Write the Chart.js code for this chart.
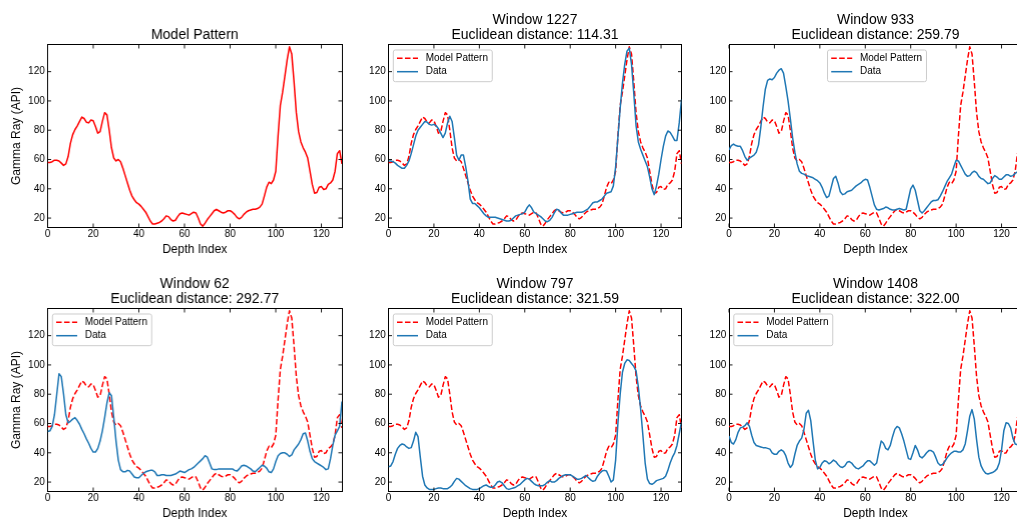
<!DOCTYPE html>
<html lang="en">
<head>
<meta charset="UTF-8">
<title>Gamma Ray Pattern Matching</title>
<script src="https://cdn.jsdelivr.net/npm/chart.js@4.4.1/dist/chart.umd.min.js"></script>
<style>
  html, body { margin: 0; padding: 0; background: #fff; overflow: hidden; }
  body { width: 1017px; height: 519px; position: relative; }
  .panel { position: absolute; }
</style>
</head>
<body>
<script>
// depth index along each window (130 samples)
const depthIndex = Array.from({ length: 130 }, (_, i) => i);
const xTicks = [0, 20, 40, 60, 80, 100, 120];
const yTicks = [20, 40, 60, 80, 100, 120];
const xRange = [0, 129];
const yRange = [13.9, 138.2];

// reference gamma ray pattern
const modelPattern = [
  58, 58, 58.5, 59.5, 59.5, 59, 57.5, 56, 57, 62,
  71, 77, 80.5, 83, 86, 89, 88, 85.5, 85, 87,
  86.5, 82.5, 78, 79, 86, 92, 90.5, 80, 68, 61,
  59, 60, 58.5, 54, 49, 44, 39, 35, 32.5, 30.5,
  29.5, 28, 26, 24, 21, 18, 16, 16, 16.5, 17,
  18, 19.5, 21.5, 21, 19, 18, 18.5, 21, 23, 23.5,
  23, 22.5, 22, 23, 24, 23.5, 20, 16, 14.5, 16.5,
  19, 21, 23, 25, 26, 25, 24, 23.5, 24, 25,
  25, 24, 22.5, 20.5, 19.5, 20.5, 22.5, 24, 25, 25.5,
  26, 26, 26.5, 27.5, 29.5, 35, 41, 44.5, 43.5, 46,
  52, 76, 97, 106, 117, 128, 137, 132, 113, 92,
  79, 72, 68, 65, 61, 52, 43, 37, 37.5, 41,
  41.5, 39.5, 40, 43, 44, 46, 52, 64, 66, 57
];

// matched windows, best match first
const windowIds = [1227, 933, 62, 797, 1408];
const distances = [114.31, 259.79, 292.77, 321.59, 322.00];

const window1227 = [
  59, 59, 58.5, 57.5, 56, 55, 54, 54, 56, 59,
  64, 70, 76, 80, 82, 84, 86, 85.5, 84, 83.5,
  84, 83, 81, 78, 75, 78, 85, 89.5, 86, 75,
  63, 59.5, 63, 63, 55, 45, 33, 30, 30, 28.5,
  27, 25, 23, 21.5, 20.5, 20.5, 20.5, 20.5, 20, 19.5,
  19, 18.5, 18, 18, 18.5, 20, 21.5, 22, 22.5, 23,
  24, 27, 29, 27, 24, 23, 22, 21, 19.5, 18,
  17.5, 18.5, 20.5, 23.5, 26, 25.5, 23.5, 22, 22, 22,
  22.5, 23, 23.5, 24, 24, 24, 24.5, 25.5, 26.5, 28.5,
  30.5, 31, 31, 32, 33, 35, 37, 37.5, 38, 42,
  55, 75, 95, 112, 125, 134, 136, 125, 105, 83,
  72, 67, 63, 59, 55, 48, 40, 36, 42, 50,
  60, 69, 76, 79.5, 78.5, 76, 73, 73, 85, 101
];

const window933 = [
  66.5, 69.5, 70.5, 69.5, 69, 69, 66, 62, 59.5, 61,
  62, 63, 65, 70, 82, 96, 108, 114, 115, 114.5,
  116, 119, 121, 122, 119, 110, 100, 88, 75, 65,
  57, 52, 50.5, 50, 49, 48.5, 48, 47.5, 46.5, 45.5,
  44, 41, 37, 34, 35, 41, 47, 48.5, 44, 38,
  36, 36.5, 38, 38.5, 39, 40.5, 42, 43, 44, 45.5,
  46.5, 46, 41, 35, 29, 26, 25.5, 26, 26.5, 27.5,
  27, 26, 25.5, 25.5, 26, 26.5, 26, 25.5, 26, 33,
  40, 42.5, 39, 32, 25, 23.5, 25, 27, 29, 31,
  32, 32, 32.5, 35, 38, 41.5, 45, 47.5, 50, 55,
  59.5, 59, 56, 53, 50, 48.5, 49, 51, 52, 51,
  48.5, 47, 46.5, 45, 43.5, 44, 47, 49, 48, 46.5,
  46.5, 48, 49.5, 49.5, 48.5, 49, 50.5, 51.5, 53, 54
];

const window62 = [
  54.5, 55, 58, 66, 80, 94, 92, 80, 66, 60.5,
  61.5, 63, 64, 62, 59.5, 56, 53, 49.5, 46.5, 43,
  40.5, 40.5, 43, 48, 55, 64, 74, 81, 79, 64,
  48, 35, 28.5, 27, 27, 28, 27.5, 25.5, 23.5, 23,
  23, 24.5, 26, 27, 27.5, 28, 28, 27, 24.5, 24.5,
  25, 25, 24.5, 24.5, 24.5, 25, 25.5, 26.5, 27.5, 27,
  26.5, 27.5, 28.5, 29, 30, 31.5, 33, 34.5, 36, 38,
  37, 33, 29, 28.5, 28.5, 29, 29, 29, 29, 29,
  29, 29, 28, 27.5, 29, 31, 31.5, 31, 30, 29,
  27.5, 27, 28.5, 30, 31.5, 31, 29.5, 27, 26.5, 29,
  34, 38, 39.5, 40, 40, 39, 37.5, 38.5, 42, 44,
  46, 49, 53, 53.5, 48, 41, 36, 34, 33, 32,
  31, 30, 28.5, 29, 36, 45, 52, 55, 58, 75
];

const window797 = [
  30.5, 31, 34, 39, 43, 45, 46, 45.5, 44, 43,
  43.5, 48, 54, 51, 37, 24, 18, 16, 15, 15,
  15, 15.5, 16, 16, 15.5, 15.5, 15.5, 16.5, 18, 20.5,
  22.5, 22, 20.5, 19, 17.5, 16.5, 15.5, 15, 15, 15,
  15.5, 16.5, 17.5, 18, 17, 16.5, 16.5, 18, 20, 20.5,
  19.5, 17.5, 15.5, 15, 15.5, 16, 16.5, 17.5, 18.5, 20,
  21.5, 22.5, 22, 20.5, 19, 18, 17.5, 17.5, 17.5, 18.5,
  20, 21, 20, 20, 21, 22.5, 23.5, 24.5, 25, 25,
  25, 24, 23, 22, 22, 22.5, 23.5, 24.5, 23, 21.5,
  20.5, 21, 24, 26, 27.5, 28, 27.5, 24, 20, 21.5,
  35, 60, 80, 95, 101, 103.5, 103, 101, 99, 96,
  85, 70, 52, 33, 22, 19, 18.5, 19.5, 21, 21.5,
  22, 22.5, 24, 28, 33, 37, 40, 45, 53, 61
];

const window1408 = [
  51.5, 47, 46, 49, 54, 57, 57.5, 58.5, 60.5, 58,
  52, 47, 45, 44.5, 44, 43.5, 43.5, 43, 42.5, 40,
  39, 39, 41, 42, 41, 38, 33, 30, 32, 39,
  45, 48, 50, 56, 67, 69, 62, 48, 35, 29,
  30, 33, 34.5, 34, 32.5, 33.5, 35, 34, 32, 30.5,
  30, 31, 33.5, 34, 33, 31, 29.5, 29, 30, 31,
  33, 34.5, 34.5, 33, 31.5, 33, 41, 48, 46.5, 43,
  42, 45, 51, 56, 58, 57, 53, 48, 42, 36,
  35.5, 40, 45, 42, 37.5, 36.5, 38, 40, 41.5, 41.5,
  40.5, 37, 33, 31.5, 32, 34, 36.5, 38.5, 40, 41,
  41, 40.5, 40.5, 42, 46, 55, 65, 69.5, 63, 49,
  37, 31, 28, 26, 25.5, 26, 26.5, 27.5, 29, 33,
  42, 55, 60.5, 60, 57, 50, 46, 45.5, 45, 46
];

const windowData = [window1227, window933, window62, window797, window1408];

// page placement of each subplot (2 x 3 grid); the right gutter mirrors the
// left axis width so titles centre over the plot area
const panelBoxes = [
  { left: 0,   top: 0,   yAxisWidth: 47.5, plotWidth: 293.5 },
  { left: 350, top: 0,   yAxisWidth: 38.5, plotWidth: 293 },
  { left: 690, top: 0,   yAxisWidth: 39,   plotWidth: 293 },
  { left: 0,   top: 264, yAxisWidth: 47.5, plotWidth: 293.5 },
  { left: 350, top: 264, yAxisWidth: 38.5, plotWidth: 293 },
  { left: 690, top: 264, yAxisWidth: 39,   plotWidth: 293 }
];
const legendAlign = ['left', 'center', 'left', 'left', 'left'];

const RED = '#ff0000';
const BLUE = '#1f77b4';
const FONT = "'Liberation Sans', Arial, Helvetica, sans-serif";
const TICK_LEN = 3.5;

Chart.defaults.font.family = FONT;
Chart.defaults.color = '#000';

// matplotlib-style legend: framed box inside the axes
const legendBox = {
  id: 'legendBox',
  afterDatasetsDraw(chart, args, opts) {
    if (!opts.display) return;
    const { ctx, chartArea } = chart;
    const items = chart.data.datasets;
    ctx.save();
    ctx.font = '10px ' + FONT;
    const textW = Math.max(...items.map((d) => ctx.measureText(d.label).width));
    const w = 32.4 + textW + 4.3;
    const h = 31.7;
    const x = opts.align === 'center'
      ? (chartArea.left + chartArea.right) / 2 - w / 2 + 1.5
      : chartArea.left + 4.8;
    const y = chartArea.top + 5;
    ctx.beginPath();
    ctx.roundRect(x, y, w, h, 2);
    ctx.fillStyle = 'rgba(255,255,255,0.8)';
    ctx.fill();
    ctx.lineWidth = 1;
    ctx.strokeStyle = '#cccccc';
    ctx.stroke();
    items.forEach((d, i) => {
      const cy = y + 8.3 + i * 13.4;
      ctx.beginPath();
      ctx.setLineDash(d.borderDash || []);
      ctx.strokeStyle = d.borderColor;
      ctx.lineWidth = d.borderWidth;
      ctx.moveTo(x + 3.7, cy);
      ctx.lineTo(x + 24.7, cy);
      ctx.stroke();
      ctx.setLineDash([]);
      ctx.fillStyle = '#000';
      ctx.textBaseline = 'middle';
      ctx.textAlign = 'left';
      ctx.fillText(d.label, x + 32.4, cy);
    });
    ctx.restore();
  }
};

// tick marks pointing into the plot on all four sides
const innerTicks = {
  id: 'innerTicks',
  afterDraw(chart) {
    const { ctx, chartArea: a, scales } = chart;
    ctx.save();
    ctx.strokeStyle = '#000';
    ctx.lineWidth = 0.9;
    ctx.beginPath();
    scales.x.ticks.forEach((t) => {
      const px = scales.x.getPixelForValue(t.value);
      ctx.moveTo(px, a.bottom);
      ctx.lineTo(px, a.bottom - TICK_LEN);
      ctx.moveTo(px, a.top);
      ctx.lineTo(px, a.top + TICK_LEN);
    });
    scales.y.ticks.forEach((t) => {
      const py = scales.y.getPixelForValue(t.value);
      ctx.moveTo(a.left, py);
      ctx.lineTo(a.left + TICK_LEN, py);
      ctx.moveTo(a.right, py);
      ctx.lineTo(a.right - TICK_LEN, py);
    });
    ctx.stroke();
    ctx.restore();
  }
};

const fixedTicks = (list) => (scale) => {
  scale.ticks = list.map((v) => ({ value: v }));
};

const noGrid = { display: false, drawTicks: false };
const spine = { display: true, color: '#000', width: 1 };

function makeChart(idx, title, datasets, showLegend, align) {
  const box = panelBoxes[idx];
  const div = document.createElement('div');
  div.className = 'panel';
  div.style.left = box.left + 'px';
  div.style.top = box.top + 'px';
  div.style.width = (box.yAxisWidth * 2 + box.plotWidth) + 'px';
  div.style.height = '260px';
  const canvas = document.createElement('canvas');
  div.appendChild(canvas);
  document.body.appendChild(div);

  const twoLine = Array.isArray(title);
  const leftCol = idx % 3 === 0;

  return new Chart(canvas, {
    type: 'line',
    data: { labels: depthIndex, datasets },
    plugins: [legendBox, innerTicks],
    options: {
      responsive: true,
      maintainAspectRatio: false,
      animation: false,
      events: [],
      layout: { autoPadding: false, padding: 0 },
      elements: { point: { radius: 0 }, line: { tension: 0, borderJoinStyle: 'round' } },
      plugins: {
        legend: { display: false },
        tooltip: { enabled: false },
        legendBox: { display: showLegend, align },
        title: {
          display: true,
          text: title,
          color: '#000',
          font: { size: 14, weight: 'normal', lineHeight: 1.057 },
          padding: { top: twoLine ? 12.8 : 27.6, bottom: 2.6 }
        }
      },
      scales: {
        x: {
          type: 'linear',
          position: 'bottom',
          min: xRange[0],
          max: xRange[1],
          afterBuildTicks: fixedTicks(xTicks),
          afterFit: (s) => { s.height = 33; },
          grid: noGrid,
          border: spine,
          ticks: { font: { size: 10 }, padding: 1.7, maxRotation: 0, autoSkip: false },
          title: { display: true, text: 'Depth Index', font: { size: 12 }, padding: { top: 0, bottom: 3.3 } }
        },
        y: {
          type: 'linear',
          position: 'left',
          min: yRange[0],
          max: yRange[1],
          afterBuildTicks: fixedTicks(yTicks),
          afterFit: (s) => { s.width = box.yAxisWidth; },
          grid: noGrid,
          border: spine,
          ticks: { font: { size: 10 }, padding: 2.7, autoSkip: false },
          title: { display: leftCol, text: 'Gamma Ray (API)', font: { size: 12 }, padding: { top: 9.5, bottom: 0 } }
        },
        x2: {
          type: 'linear',
          position: 'top',
          min: xRange[0],
          max: xRange[1],
          afterFit: (s) => { s.height = 0; },
          grid: noGrid,
          border: spine,
          ticks: { display: false }
        },
        y2: {
          type: 'linear',
          position: 'right',
          min: yRange[0],
          max: yRange[1],
          afterFit: (s) => { s.width = box.yAxisWidth; },
          grid: noGrid,
          border: spine,
          ticks: { display: false }
        }
      }
    }
  });
}

const lineBase = { pointRadius: 0, borderWidth: 1.5, fill: false };

// first subplot: the pattern on its own
makeChart(0, 'Model Pattern', [
  { ...lineBase, label: 'Model Pattern', data: modelPattern, borderColor: RED }
], false, 'left');

// remaining subplots: pattern against each matched window
windowIds.forEach((id, i) => {
  makeChart(i + 1,
    ['Window ' + id, 'Euclidean distance: ' + distances[i].toFixed(2)],
    [
      { ...lineBase, label: 'Model Pattern', data: modelPattern, borderColor: RED, borderDash: [5.55, 2.4], order: 1 },
      { ...lineBase, label: 'Data', data: windowData[i], borderColor: BLUE, order: 0 }
    ],
    true, legendAlign[i]);
});
</script>
</body>
</html>
